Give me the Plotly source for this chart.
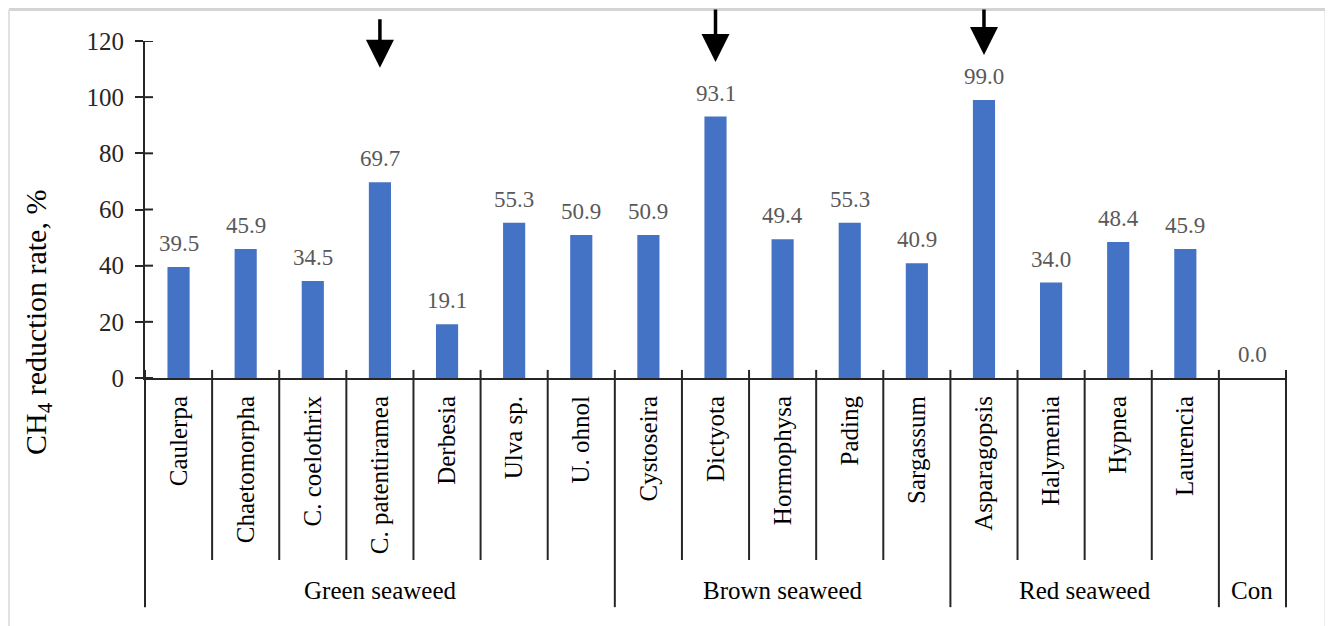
import plotly.graph_objects as go

species = ["Caulerpa", "Chaetomorpha", "C. coelothrix", "C. patentiramea", "Derbesia",
           "Ulva sp.", "U. ohnol", "Cystoseira", "Dictyota", "Hormophysa", "Pading",
           "Sargassum", "Asparagopsis", "Halymenia", "Hypnea", "Laurencia", ""]
reduction = [39.5, 45.9, 34.5, 69.7, 19.1, 55.3, 50.9, 50.9, 93.1, 49.4, 55.3,
             40.9, 99.0, 34.0, 48.4, 45.9, 0.0]
groups = ["Green seaweed", "Brown seaweed", "Red seaweed", "Con"]
group_sizes = [7, 5, 4, 1]
arrow_targets = ["C. patentiramea", "Dictyota", "Asparagopsis"]
arrow_tips = [110.5, 112.5, 115.0]
arrow_len = [50, 54, 47]
y_ticks = [0, 20, 40, 60, 80, 100, 120]

FONT = "Liberation Serif, Times New Roman, serif"
AX = "#262626"
n = len(species)
xs = list(range(n))

# figure geometry (page has an 8px body margin)
W, H = 1325, 618
ML, MR, MT, MB = 137, 47, 33, 248
PW = W - ML - MR
PH = H - MT - MB


def px_x(p):
    return (p - ML) / PW


def px_y(p):
    return (H - MB - p) / PH


fig = go.Figure()
fig.add_trace(go.Bar(x=xs, y=reduction, width=0.33, marker_color="#4472C4",
                     marker_line_width=0, hoverinfo="skip"))

ann = []
for i, v in enumerate(reduction):
    ann.append(dict(x=i, y=v, xref="x", yref="y", text=f"{v:.1f}", showarrow=False,
                    xanchor="center", yanchor="bottom", yshift=9,
                    font=dict(family=FONT, size=23, color="#595959")))

for name, tip, L in zip(arrow_targets, arrow_tips, arrow_len):
    ann.append(dict(x=species.index(name), y=tip, xref="x", yref="y", text="",
                    showarrow=True, ax=0, ay=-L, arrowhead=2, arrowsize=1.6,
                    arrowwidth=3.5, arrowcolor="black"))

# group labels
start = 0
for g, s in zip(groups, group_sizes):
    ann.append(dict(x=(start + (start + s)) / 2 / n, y=-0.632, xref="paper", yref="paper",
                    text=g, showarrow=False, xanchor="center", yanchor="middle",
                    font=dict(family=FONT, size=25, color="black")))
    start += s

ann.append(dict(x=px_x(30), y=px_y(315), xref="paper", yref="paper",
                text="CH<sub>4</sub> reduction rate, %", textangle=-90, showarrow=False,
                xanchor="center", yanchor="middle",
                font=dict(family=FONT, size=30, color="black")))

shapes = []
bounds = set()
acc = 0
for s in group_sizes:
    bounds.add(acc)
    acc += s
bounds.add(acc)
for k in range(n + 1):
    long_ = k in bounds
    shapes.append(dict(type="line", xref="paper", yref="paper", x0=k / n, x1=k / n,
                       y0=0.024, y1=-0.68 if long_ else -0.54,
                       line=dict(color=AX, width=2)))
# inner halves of y ticks
for t in y_ticks:
    shapes.append(dict(type="line", xref="paper", yref="y", x0=0, x1=8 / PW, y0=t, y1=t,
                       line=dict(color=AX, width=2)))
# outer frame (light grey)
fx0, fx1, fy1, fy0 = px_x(1), px_x(1318), px_y(1.5), px_y(H + 5)
shapes.append(dict(type="line", xref="paper", yref="paper", x0=fx0, x1=fx1,
                   y0=fy1, y1=fy1, line=dict(color="#d4d4d4", width=3)))
shapes.append(dict(type="line", xref="paper", yref="paper", x0=fx0, x1=fx0,
                   y0=fy1, y1=fy0, line=dict(color="#e2e2e2", width=2)))
shapes.append(dict(type="line", xref="paper", yref="paper", x0=fx1, x1=fx1,
                   y0=fy1, y1=fy0, line=dict(color="#dcdcdc", width=3)))

fig.update_layout(
    width=W, height=H,
    margin=dict(l=ML, r=MR, t=MT, b=MB),
    paper_bgcolor="white", plot_bgcolor="white",
    showlegend=False,
    annotations=ann, shapes=shapes,
    xaxis=dict(range=[-0.5, n - 0.5], tickvals=xs, ticktext=species, tickangle=-90,
               ticks="", showline=True, linecolor=AX, linewidth=2, showgrid=False,
               zeroline=False, ticklabelstandoff=6,
               tickfont=dict(family=FONT, size=25, color="black")),
    yaxis=dict(range=[0, 120], tickvals=y_ticks, ticks="outside", ticklen=8, tickwidth=2,
               tickcolor=AX, showline=True, linecolor=AX, linewidth=2, showgrid=False,
               zeroline=False, ticklabelstandoff=6,
               tickfont=dict(family=FONT, size=25, color="#262626")),
)

fig.write_html("out.html")
